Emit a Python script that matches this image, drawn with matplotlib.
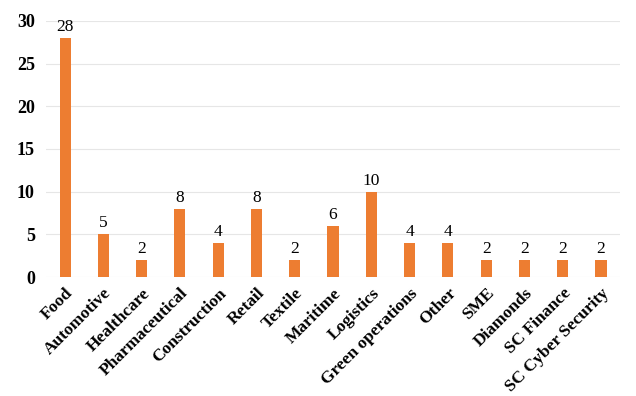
import matplotlib
matplotlib.use("Agg")
import matplotlib.pyplot as plt

categories = ["Food", "Automotive", "Healthcare", "Pharmaceutical", "Construction", "Retail",
              "Textile", "Maritime", "Logistics", "Green operations", "Other", "SME",
              "Diamonds", "SC Finance", "SC Cyber Security"]
values = [28, 5, 2, 8, 4, 8, 2, 6, 10, 4, 4, 2, 2, 2, 2]
yticks = [0, 5, 10, 15, 20, 25, 30]

plt.rcParams['font.family'] = ['Liberation Serif', 'DejaVu Serif']

fig = plt.figure(figsize=(6.36, 3.96), dpi=100)
ax = fig.add_axes([0.0723, 0.3005, 0.9027, 0.6465])
x = list(range(len(categories)))
ax.bar(x, values, width=0.29, color="#ED7D31", zorder=3)
for xi, v in zip(x, values):
    ax.text(xi, v + 0.35, str(v), ha="center", va="bottom", fontsize=12.5)
ax.set_xlim(-0.5, len(categories) - 0.5)
ax.set_ylim(0, 30)
ax.set_yticks(yticks)
ax.set_yticklabels([str(t) for t in yticks], fontsize=13, fontweight="bold")
ax.set_xticks(x)
ax.set_xticklabels(categories, rotation=45, ha="right", rotation_mode="anchor",
                   fontsize=12.5, fontweight="bold")
ax.tick_params(axis="both", length=0)
ax.tick_params(axis="x", pad=6)
ax.tick_params(axis="y", pad=8)
ax.grid(axis="y", color="#e6e6e6", linewidth=0.8, zorder=0)
for s in ax.spines.values():
    s.set_visible(False)
fig.savefig("out.png", dpi=100)
